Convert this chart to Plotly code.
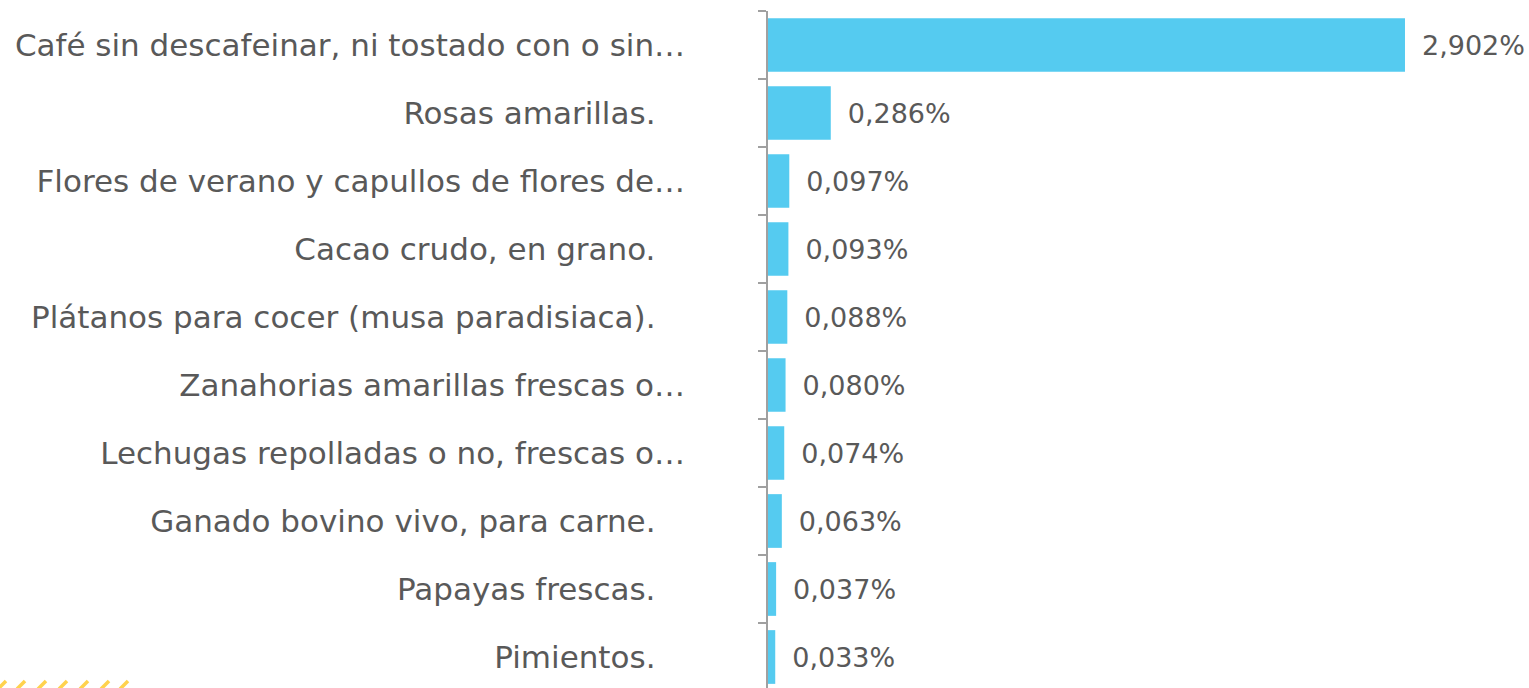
import plotly.graph_objects as go

NB = "\u00a0"
TH = "\u2009"
categories = [
    "Café sin descafeinar, ni tostado con o sin…",
    "Rosas amarillas." + NB * 3,
    "Flores de verano y capullos de flores de…",
    "Cacao crudo, en grano." + NB * 3,
    "Plátanos para cocer (musa paradisiaca)." + NB * 3,
    "Zanahorias amarillas frescas o…",
    "Lechugas repolladas o no, frescas o…",
    "Ganado bovino vivo, para carne." + NB * 3,
    "Papayas frescas." + NB * 3,
    "Pimientos." + NB * 3,
]
values = [2.902, 0.286, 0.097, 0.093, 0.088, 0.080, 0.074, 0.063, 0.037, 0.033]
labels = [NB + TH + f"{v:.3f}".replace(".", ",") + "%" for v in values]

W, H = 1529, 688
ML, MT = 768, 11
PW, PH = W - ML, H - MT

fig = go.Figure(go.Bar(
    x=values, y=categories, orientation="h",
    marker=dict(color="#55CBF0", line=dict(width=0)),
    text=labels, textposition="outside", cliponaxis=False,
    textfont=dict(family="DejaVu Sans", size=27, color="#595959"),
    width=0.79,
))

px_per_unit = 219.5
fig.update_layout(
    width=W, height=H,
    margin=dict(l=ML, r=0, t=MT, b=0, pad=0),
    paper_bgcolor="white", plot_bgcolor="white",
    showlegend=False,
    font=dict(family="DejaVu Sans", size=31, color="#595959"),
    xaxis=dict(range=[0, PW / px_per_unit], visible=False, showgrid=False, zeroline=False),
    yaxis=dict(
        type="category", categoryorder="array", categoryarray=categories,
        range=[-0.5 + PH / 68.0, -0.5],
        showline=True, linecolor="#A0A0A0", linewidth=1.5,
        ticks="outside", ticklen=8, tickcolor="#A0A0A0", tickwidth=1.5,
        tickson="boundaries", ticklabelstandoff=75,
        showgrid=False, zeroline=False,
        tickfont=dict(family="DejaVu Sans", size=31, color="#595959"),
    ),
)

# decorative yellow dashes at bottom-left (page pixel positions)
for x0 in [0, 19, 40, 61, 82, 103, 122]:
    px0, px1 = x0 - 2, x0 + 6
    fig.add_shape(
        type="line", xref="paper", yref="paper",
        x0=(px0 - ML) / PW, x1=(px1 - ML) / PW,
        y0=(H - 689) / PH, y1=(H - 681) / PH,
        line=dict(color="#FFD24D", width=3.5),
    )

fig.write_html(
    "out.html",
    config={"displayModeBar": False},
    post_script="document.body.style.margin='0';document.body.style.overflow='hidden';",
)
